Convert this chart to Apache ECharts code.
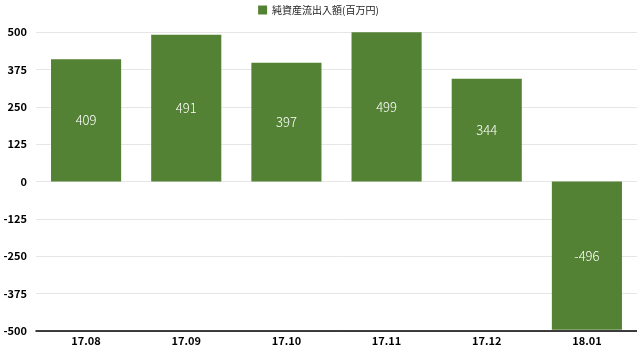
<!DOCTYPE html>
<html><head><meta charset="utf-8">
<script src="https://cdn.jsdelivr.net/npm/echarts@6/dist/echarts.min.js"></script>
<style>html,body{margin:0;padding:0;background:#fff}#c{width:637px;height:346px}</style>
</head><body><div id="c"></div>
<script>
const categories = ["17.08","17.09","17.10","17.11","17.12","18.01"];
const values = [409, 491, 397, 499, 344, -496];
const seriesName = "純資産流出入額(百万円)";
const yMin = -500, yMax = 500, yInterval = 125;

const font = '"Noto Sans CJK JP", "Noto Sans", sans-serif';
const chart = echarts.init(document.getElementById('c'));
chart.setOption({
  animation: false,
  textStyle: {fontFamily: font},
  legend: {
    top: 0, left: 'center', itemWidth: 9, itemHeight: 9, itemGap: 6,
    textStyle: {fontSize: 10, color: '#222', fontFamily: font},
    icon: 'rect'
  },
  grid: {left: 36, right: 0, top: 32, bottom: 15},
  xAxis: {
    type: 'category', data: categories,
    axisLine: {onZero: false, lineStyle: {color: '#000', width: 1.5}},
    axisTick: {show: false},
    axisLabel: {color: '#000', fontSize: 11, fontWeight: 600, margin: 4, fontFamily: font}
  },
  yAxis: {
    type: 'value', min: yMin, max: yMax, interval: yInterval,
    axisLine: {show: false}, axisTick: {show: false},
    axisLabel: {color: '#000', fontSize: 11, fontWeight: 600, margin: 9, fontFamily: font},
    splitLine: {lineStyle: {color: '#e6e6e6'}}
  },
  series: [{
    name: seriesName, type: 'bar', data: values, barWidth: '70%',
    itemStyle: {color: '#548235'},
    label: {show: true, position: 'inside', color: '#fff', fontSize: 13, fontWeight: 300, fontFamily: font}
  }]
});
</script></body></html>
